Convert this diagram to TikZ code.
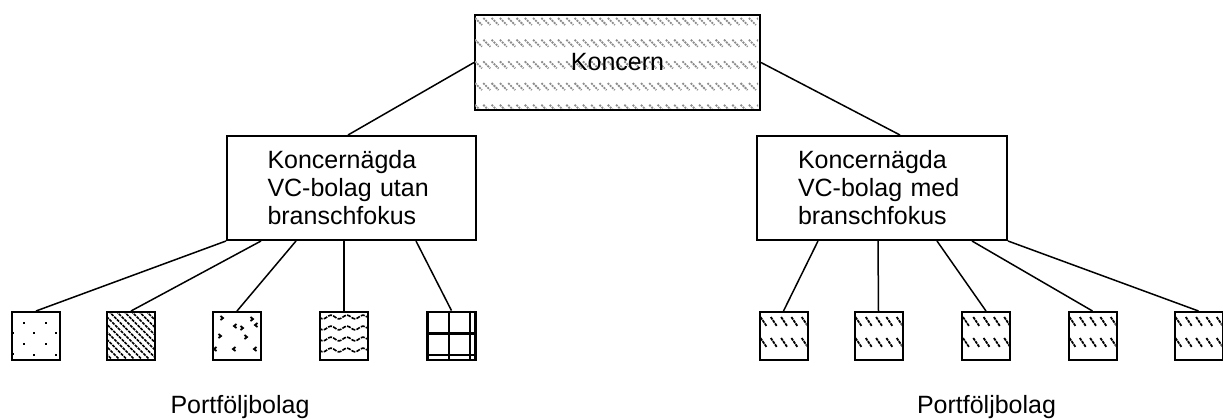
\documentclass[tikz,border=0pt]{standalone}
\usepackage{fontspec}
\setmainfont{Liberation Sans}
\begin{document}
\begin{tikzpicture}[x=0.5pt,y=-0.5pt,
  every node/.style={font=\fontsize{12.5pt}{14pt}\selectfont},
  box/.style={draw,line width=1pt,inner sep=0pt},
  small/.style={draw,line width=1pt,minimum width=24pt,minimum height=24pt,inner sep=0pt},
  conn/.style={line width=0.75pt},
  graystroke/.style={black!45,line width=0.9pt,dash pattern=on 1pt off 0.5pt},
  blackstroke/.style={black,line width=0.9pt,dash pattern=on 1.5pt off 0.4pt},
  lbl/.style={anchor=base}]
\useasboundingbox (0,0) rectangle (1223,419);
% main nodes
\node[box,minimum width=142.5pt,minimum height=47.5pt] (k) at (617.5,62.5) {};
\node[box,minimum width=124.5pt,minimum height=52pt,text width=84pt,align=left] (lm) at (351.5,188) {Koncernägda\\VC-bolag utan\\branschfokus};
\node[box,minimum width=125pt,minimum height=52pt,text width=84pt,align=left] (rm) at (882,188) {Koncernägda\\VC-bolag med\\branschfokus};
% left small boxes
\node[small] (l1) at (36,336) {};
\node[small] (l2) at (131,336) {};
\node[small] (l3) at (237,336) {};
\node[small] (l4) at (344,336) {};
\node[small,line width=1.4pt] (l5) at (451.5,336) {};
% right small boxes
\node[small] (r1) at (783.5,336) {};
\node[small] (r2) at (878.5,336) {};
\node[small] (r3) at (986,336) {};
\node[small] (r4) at (1092.5,336) {};
\node[small] (r5) at (1198.5,336) {};
% labels
\node[lbl] (pl) at (240,413) {Portföljbolag};
\node[lbl] (pr) at (986.5,413) {Portföljbolag};
% Koncern pattern
\begin{scope}[shift={(k.north west)}]
  \clip (1,1) rectangle (284,94);
  \foreach \r in {0,...,4}{
    \foreach \c in {0,...,34}{
      \draw[graystroke] ({\c*8.3+1},{\r*21.7+4}) -- ++(7,7);
    }
  }
\end{scope}
\node (kt) at (k.center) {Koncern};
% box 1: dots
\begin{scope}[shift={(l1.north west)}]
  \foreach \p in {(13,12),(35,12),(23,22),(2,22),(45,22),(13,33),(35,33),(2,43),(23,44),(45,44)}{
    \fill \p ++(-1,-1) rectangle ++(2.2,2.2);
  }
\end{scope}
% box 2: diagonal lines
\begin{scope}[shift={(l2.north west)}]
  \clip (0,0) rectangle (48,48);
  \foreach \k in {-50,-42.5,...,50}{
    \draw[line width=0.75pt,dash pattern=on 1.5pt off 0.5pt] (\k,0) -- ++(48,48);
  }
\end{scope}
% box 3: chevrons
\begin{scope}[shift={(l3.north west)}]
  \foreach \p in {(10,7),(8,25),(34,26),(40,8),(30,17)}{
    \draw[line width=0.9pt] \p ++(-1.5,-2) -- ++(2.5,2) -- ++(-2.5,2);
  }
  \foreach \p in {(23,15),(22,38),(43,38),(3,38),(44,14)}{
    \draw[line width=0.9pt] \p ++(1.5,-2) -- ++(-2.5,2) -- ++(2.5,2);
  }
\end{scope}
% box 4: waves
\begin{scope}[shift={(l4.north west)}]
  \clip (0,0) rectangle (48,48);
  \foreach \yy in {6,17,28,39}{
    \draw[line width=0.8pt,dash pattern=on 2pt off 0.6pt] plot[domain=0:48,samples=60] (\x,{\yy+1.8*sin(\x*22.5)});
  }
\end{scope}
% box 5: grid
\begin{scope}[shift={(l5.north west)}]
  \draw[line width=1.2pt] (23,0) -- (23,48);
  \draw[line width=1.2pt] (0,23) -- (48,23);
  \draw[line width=0.8pt] (44,0) -- (44,48);
  \draw[line width=0.8pt] (0,44.5) -- (48,44.5);
\end{scope}
% right boxes pattern
\foreach \b in {r1,r2,r3,r4,r5}{
  \begin{scope}[shift={(\b.north west)}]
    \clip (0,0) rectangle (48,48);
    \foreach \r in {6,27}{
      \foreach \c in {0,...,4}{
        \draw[blackstroke] ({\c*10.3+2},\r) -- ++(6,9);
      }
    }
  \end{scope}
}
% connectors
\draw[conn] (k.west) -- ([xshift=-1.75pt]lm.north);
\draw[conn] (k.east) -- ([xshift=9pt]rm.north);
\draw[conn] (lm.south west) -- (l1.north);
\draw[conn] ([xshift=17.5pt]lm.south west) -- (l2.north);
\draw[conn] ([xshift=35pt]lm.south west) -- (l3.north);
\draw[conn] ([xshift=59pt]lm.south west) -- (l4.north);
\draw[conn] ([xshift=95pt]lm.south west) -- (l5.north);
\draw[conn] ([xshift=31pt]rm.south west) -- (r1.north);
\draw[conn] ([xshift=61pt]rm.south west) -- (r2.north);
\draw[conn] ([xshift=90.5pt]rm.south west) -- (r3.north);
\draw[conn] ([xshift=108pt]rm.south west) -- (r4.north);
\draw[conn] (rm.south east) -- (r5.north);
\end{tikzpicture}
\end{document}
